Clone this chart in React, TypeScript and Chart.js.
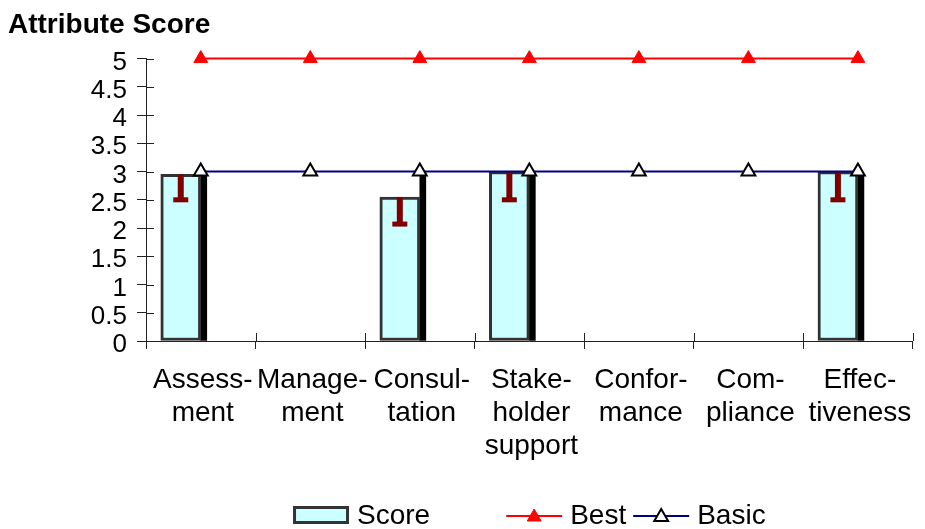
import React, { useEffect, useRef } from 'react';
import { Chart, registerables } from 'chart.js';

Chart.register(...registerables);

const FONT = '"Liberation Sans", Arial, Helvetica, sans-serif';

// ---- data ----
const categories: string[][] = [
  ['Assess-', 'ment'],
  ['Manage-', 'ment'],
  ['Consul-', 'tation'],
  ['Stake-', 'holder', 'support'],
  ['Confor-', 'mance'],
  ['Com-', 'pliance'],
  ['Effec-', 'tiveness'],
];
const scoreValues: (number | null)[] = [2.95, null, 2.55, 3, null, null, 3];
const scoreHigh: (number | null)[] = [2.95, null, 3, 2.95, null, null, 2.95];
const scoreLow: (number | null)[] = [2.5, null, 2.07, 2.5, null, null, 2.5];
const bestValues: number[] = [5, 5, 5, 5, 5, 5, 5];
const basicValues: number[] = [3, 3, 3, 3, 3, 3, 3];
const yTickLabels: string[] = ['0', '0.5', '1', '1.5', '2', '2.5', '3', '3.5', '4', '4.5', '5'];

// ---- plugins ----
const innerTicksPlugin = {
  id: 'innerTicks',
  beforeDatasetsDraw(chart: any) {
    const { ctx, chartArea, scales } = chart;
    const x = scales.x;
    const y = scales.y;
    ctx.save();
    ctx.strokeStyle = '#222';
    ctx.lineWidth = 1;
    ctx.beginPath();
    y.ticks.forEach((_t: any, i: number) => {
      const py = Math.round(y.getPixelForTick(i)) + 0.5;
      ctx.moveTo(chartArea.left, py);
      ctx.lineTo(chartArea.left + 8, py);
    });
    const n = chart.data.labels.length;
    const step = x.getPixelForValue(1) - x.getPixelForValue(0);
    for (let i = 1; i <= n; i++) {
      const px = Math.round(x.getPixelForValue(i) - step / 2) + 0.5;
      ctx.moveTo(px, chartArea.bottom);
      ctx.lineTo(px, chartArea.bottom - 8);
    }
    ctx.stroke();
    ctx.restore();
  },
};

const errorBarPlugin = {
  id: 'errorBars',
  afterDatasetDraw(chart: any, args: any) {
    if (args.index !== 0) return;
    const { ctx } = chart;
    const y = chart.scales.y;
    ctx.save();
    ctx.fillStyle = '#800000';
    args.meta.data.forEach((bar: any, i: number) => {
      const v = scoreValues[i];
      const lo = scoreLow[i];
      if (v == null || lo == null) return;
      const top = y.getPixelForValue(v);
      const bot = y.getPixelForValue(lo);
      ctx.fillRect(bar.x - 3, top, 6, bot - top);
      ctx.fillRect(bar.x - 7.5, bot - 2.5, 15, 5);
    });
    ctx.restore();
  },
};

function drawTriangle(ctx: CanvasRenderingContext2D, cx: number, cy: number, r: number) {
  const hw = r * Math.sin(Math.PI / 3);
  ctx.beginPath();
  ctx.moveTo(cx, cy - r);
  ctx.lineTo(cx + hw, cy + r / 2);
  ctx.lineTo(cx - hw, cy + r / 2);
  ctx.closePath();
}

const legendPlugin = {
  id: 'customLegend',
  afterDraw(chart: any) {
    const { ctx, chartArea } = chart;
    const symW = 56;
    const symGap = 8;
    const itemGaps = [76, 7];
    const items = chart.data.datasets.filter((d: any) => d.label);
    ctx.save();
    ctx.font = `28px ${FONT}`;
    ctx.textBaseline = 'middle';
    ctx.textAlign = 'left';
    const widths = items.map((d: any) => symW + symGap + ctx.measureText(d.label).width);
    let total = widths.reduce((a: number, b: number) => a + b, 0);
    for (let i = 0; i < items.length - 1; i++) total += itemGaps[i] ?? 7;
    let x = (chartArea.left + chartArea.right) / 2 - total / 2;
    const ly = chart.height - 14;
    items.forEach((d: any, i: number) => {
      if (d.type === 'line') {
        ctx.strokeStyle = d.borderColor;
        ctx.lineWidth = 2;
        ctx.beginPath();
        ctx.moveTo(x, ly + 1);
        ctx.lineTo(x + symW, ly + 1);
        ctx.stroke();
        drawTriangle(ctx, x + symW / 2, ly + 2, d.pointRadius);
        ctx.fillStyle = d.pointBackgroundColor;
        ctx.fill();
        ctx.lineWidth = d.pointBorderWidth;
        ctx.strokeStyle = d.pointBorderColor;
        ctx.stroke();
      } else {
        ctx.fillStyle = d.backgroundColor;
        ctx.fillRect(x, ly - 9, symW, 18);
        ctx.lineWidth = 3;
        ctx.strokeStyle = d.borderColor;
        ctx.strokeRect(x + 1.5, ly - 7.5, symW - 3, 15);
      }
      ctx.fillStyle = '#000';
      ctx.fillText(d.label, x + symW + symGap, ly + 1);
      x += widths[i] + (itemGaps[i] ?? 7);
    });
    ctx.restore();
  },
};

export default function App() {
  const ref = useRef<HTMLCanvasElement | null>(null);

  useEffect(() => {
    if (!ref.current) return;
    const chart = new Chart(ref.current, {
      type: 'bar',
      data: {
        labels: categories as any,
        datasets: [
          {
            type: 'bar',
            label: 'Score',
            data: scoreValues,
            backgroundColor: '#CCFFFF',
            borderColor: '#333333',
            borderWidth: 3,
            borderSkipped: false,
            barThickness: 40,
            order: 1,
          } as any,
          {
            type: 'bar',
            label: '',
            data: scoreHigh,
            backgroundColor: '#000000',
            borderWidth: 0,
            barThickness: 6,
            order: 2,
          } as any,
          {
            type: 'line',
            label: 'Best',
            data: bestValues,
            borderColor: '#FF0000',
            borderWidth: 2,
            pointStyle: 'triangle',
            pointRadius: 8,
            pointBackgroundColor: '#FF0000',
            pointBorderColor: '#FF0000',
            pointBorderWidth: 1,
            clip: false,
            order: 0,
          } as any,
          {
            type: 'line',
            label: 'Basic',
            data: basicValues,
            borderColor: '#000080',
            borderWidth: 2,
            pointStyle: 'triangle',
            pointRadius: 8,
            pointBackgroundColor: '#FFFFFF',
            pointBorderColor: '#000000',
            pointBorderWidth: 2,
            clip: false,
            order: 0,
          } as any,
        ],
      },
      options: {
        responsive: false,
        animation: false,
        events: [],
        layout: { padding: { left: 8, right: 10, top: 0, bottom: 58 } },
        plugins: {
          legend: { display: false },
          tooltip: { enabled: false },
          title: {
            display: true,
            text: 'Attribute Score',
            align: 'start',
            color: '#000',
            font: { family: FONT, size: 28, weight: 'bold' },
            padding: { top: 8, bottom: 17 },
          },
        },
        scales: {
          x: {
            offset: true,
            grid: { display: true, drawOnChartArea: false, drawTicks: true, tickLength: 8, color: '#222', offset: true },
            border: { display: true, color: '#222' },
            ticks: {
              color: '#000',
              font: { family: FONT, size: 28, lineHeight: 1.18 },
              padding: 15,
              maxRotation: 0,
              autoSkip: false,
              labelOffset: 2,
            },
            afterFit: (s: any) => { s.height = 130; },
          },
          y: {
            min: 0,
            max: 5,
            grid: { display: true, drawOnChartArea: false, drawTicks: true, tickLength: 9, color: '#222' },
            border: { display: true, color: '#222' },
            ticks: {
              stepSize: 0.5,
              autoSkip: false,
              color: '#000',
              font: { family: FONT, size: 26 },
              padding: 10,
              labelOffset: 4,
              callback: (_v: any, i: number) => yTickLabels[i],
            },
            afterFit: (s: any) => { s.width = 138; },
          },
        },
      },
      plugins: [innerTicksPlugin, errorBarPlugin, legendPlugin],
    } as any);
    return () => chart.destroy();
  }, []);

  return (
    <div style={{ position: 'fixed', left: 0, top: 0, width: 925, height: 529, background: '#fff' }}>
      <canvas ref={ref} width={925} height={529} />
    </div>
  );
}
